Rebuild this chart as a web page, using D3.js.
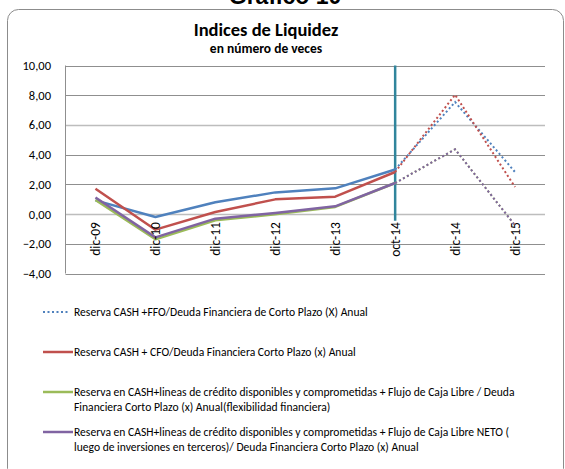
<!DOCTYPE html>
<html>
<head>
<meta charset="utf-8">
<script src="https://cdn.jsdelivr.net/npm/d3@7"></script>
<style>
  html, body { margin: 0; padding: 0; background: #fff; }
  svg { display: block; font-family: Carlito, Calibri, Lato, "Open Sans", sans-serif; }
</style>
</head>
<body>
<svg id="chart" width="565" height="469"></svg>
<script>
const categories = ["dic-09", "dic-10", "dic-11", "dic-12", "dic-13", "oct-14", "dic-14", "dic-15"];
const seriesBlue   = [0.92, -0.20, 0.79, 1.46, 1.73, 3.00, 7.54, 2.83];
const seriesRed    = [1.71, -1.05, 0.14, 0.99, 1.17, 2.83, 8.03, 1.82];
const seriesGreen  = [0.95, -1.70, -0.42, -0.02, 0.48, 2.09, 4.36, -0.76];
const seriesPurple = [1.12, -1.57, -0.31, 0.07, 0.52, 2.09, 4.36, -0.76];
const yTicks = [-4, -2, 0, 2, 4, 6, 8, 10];
const markerCategory = "oct-14";
const legendLabels = [
  ["Reserva CASH +FFO/Deuda Financiera de Corto Plazo (X) Anual"],
  ["Reserva CASH + CFO/Deuda Financiera Corto Plazo (x) Anual"],
  ["Reserva en CASH+lineas de crédito disponibles y comprometidas + Flujo de Caja Libre / Deuda",
   "Financiera Corto Plazo  (x) Anual(flexibilidad financiera)"],
  ["Reserva en CASH+lineas de crédito disponibles y comprometidas + Flujo de Caja Libre NETO (",
   "luego de inversiones en terceros)/ Deuda Financiera Corto Plazo  (x) Anual"]
];

const colors = ["#4F81BD", "#C0504D", "#9BBB59", "#8064A2"];
const series = [seriesBlue, seriesRed, seriesGreen, seriesPurple];
const legendDotted = [true, false, false, false];
const actualCount = categories.indexOf(markerCategory) + 1;

const svg = d3.select("#chart");

// Outer rounded frame
svg.append("rect").attr("x", 7.5).attr("y", 9.5).attr("width", 556).attr("height", 470)
  .attr("rx", 11).attr("fill", "none").attr("stroke", "#8c8c8c").attr("stroke-width", 1);

// Top heading (partly cut, as in the reference)
svg.append("text").attr("x", 285).attr("y", 4).attr("text-anchor", "middle")
  .style("font-family", "'Liberation Sans', Arial, sans-serif")
  .style("font-weight", "bold").style("font-size", "23px").text("Gráfico 10");

svg.append("text").attr("x", 266).attr("y", 36).attr("text-anchor", "middle")
  .style("font-weight", "bold").style("font-size", "18.5px").text("Indices de Liquidez");
svg.append("text").attr("x", 266).attr("y", 53).attr("text-anchor", "middle")
  .style("font-weight", "bold").style("font-size", "13.5px").text("en número de veces");

const left = 65.5, right = 545;
const x = d3.scaleBand().domain(categories).range([left, right]);
const y = d3.scaleLinear().domain([-4, 10]).range([273.5, 65.5]);
const cx = c => x(c) + x.bandwidth() / 2;

// Gridlines
svg.append("g").selectAll("line").data(yTicks).join("line")
  .attr("x1", left).attr("x2", right)
  .attr("y1", d => Math.round(y(d)) + 0.5).attr("y2", d => Math.round(y(d)) + 0.5)
  .attr("stroke", d => (d === 0 || d === 6) ? "#bdbdbd" : "#8f8f8f")
  .attr("stroke-width", d => (d === 0 || d === 6) ? 1.6 : 1);

// Left axis line
svg.append("line").attr("x1", left).attr("x2", left).attr("y1", y(10)).attr("y2", y(-4))
  .attr("stroke", "#8f8f8f");

// Y tick labels
const yAxis = d3.axisLeft(y).tickValues(yTicks).tickSize(0).tickPadding(0)
  .tickFormat(d => d3.format(".2f")(d).replace(".", ","));
const yg = svg.append("g").attr("transform", "translate(51,0)").call(yAxis);
yg.select(".domain").remove();
yg.selectAll("text").style("font-size", "12.5px").style("font-family", "Carlito, Calibri, Lato, sans-serif").attr("fill", "#000");

// Vertical marker line
svg.append("line").attr("x1", cx(markerCategory)).attr("x2", cx(markerCategory))
  .attr("y1", y(10)).attr("y2", y(-0.45))
  .attr("stroke", "#31859C").attr("stroke-width", 2.5);

// Lines
const line = d3.line().x(d => cx(d.c)).y(d => y(d.v));
series.forEach((s, i) => {
  const pts = s.map((v, j) => ({ c: categories[j], v }));
  svg.append("path").datum(pts.slice(0, actualCount)).attr("d", line)
    .attr("fill", "none").attr("stroke", colors[i]).attr("stroke-width", 2.5)
    .attr("stroke-linejoin", "round");
});
series.forEach((s, i) => {
  const pts = s.map((v, j) => ({ c: categories[j], v }));
  svg.append("path").datum(pts.slice(actualCount - 1)).attr("d", line)
    .attr("fill", "none").attr("stroke", colors[i]).attr("stroke-width", 2)
    .attr("stroke-dasharray", "2,2.5");
});

// X category labels (rotated), positioned at zero line
svg.append("g").selectAll("text").data(categories).join("text")
  .attr("transform", d => `translate(${cx(d) + 5},${y(0) + 8}) rotate(-90)`)
  .attr("text-anchor", "end")
  .style("font-size", "13.5px").text(d => d);

// Legend
const legY = [312, 352, 392, 432];
const lg = svg.append("g");
legendLabels.forEach((lines, i) => {
  lg.append("line").attr("x1", 43).attr("x2", legendDotted[i] ? 70 : 73)
    .attr("y1", legY[i]).attr("y2", legY[i])
    .attr("stroke", colors[i]).attr("stroke-width", legendDotted[i] ? 2 : 2.5)
    .attr("stroke-dasharray", legendDotted[i] ? "2,2.5" : null);
  lines.forEach((t, k) => {
    lg.append("text").attr("x", 74).attr("y", legY[i] + 4 + k * 15)
      .style("font-size", "11.6px").text(t);
  });
});
</script>
</body>
</html>
